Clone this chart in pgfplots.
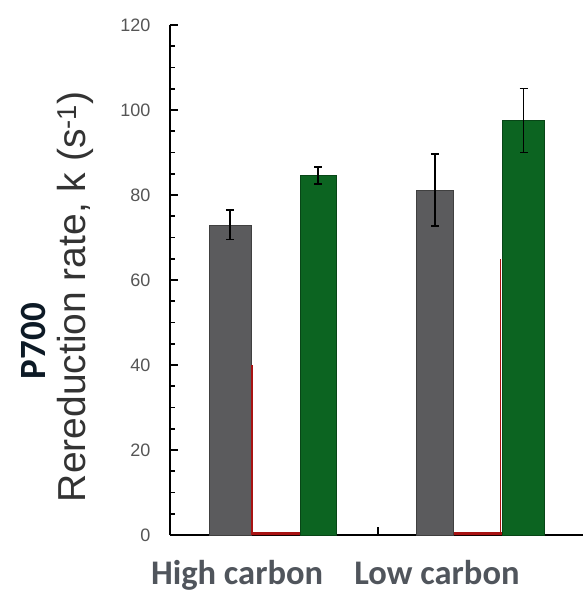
\documentclass[border=0pt]{standalone}
\usepackage{fontspec}
\setmainfont{Liberation Sans}
\newfontfamily\calfont{Carlito}
\usepackage{pgfplots}
\pgfplotsset{compat=1.18}
\definecolor{bargray}{HTML}{5B5B5D}
\definecolor{bargreen}{HTML}{0C6421}
\definecolor{barred}{HTML}{A81212}
\definecolor{ticklab}{HTML}{555555}
\definecolor{xlab}{HTML}{50555C}
\definecolor{ylab}{HTML}{333333}
\definecolor{plab}{HTML}{0D1A26}
\begin{document}
\begin{tikzpicture}
\useasboundingbox (-170pt,-57pt) rectangle (413pt,535pt);
\begin{axis}[
  at={(0,0)}, anchor=south west,
  width=413pt, height=510pt, scale only axis,
  xmin=-0.525, xmax=1.52, ymin=0, ymax=120,
  axis x line*=bottom, axis y line*=left,
  axis line style={line width=1.6pt, black},
  ytick={0,20,...,120}, minor y tick num=3,
  tick align=inside,
  major tick length=8pt, minor tick length=5pt,
  every tick/.style={line width=1.6pt, black},
  /pgf/number format/assume math mode=true,
  yticklabel style={font=\fontsize{18}{18}\selectfont, text=ticklab, xshift=-16pt},
  xtick={-0.193,0.797}, xticklabels={High carbon, Low carbon},
  xticklabel style={font=\calfont\bfseries\fontsize{34.5}{34.5}\selectfont, text=xlab, inner sep=0pt, yshift=-25pt},
  x tick style={draw=none},
  extra x ticks={0.505}, extra x tick labels={},
  extra x tick style={x tick style={draw=black, line width=1.6pt}},
  clip=false,
  error bars/error bar style={line width=1.5pt, black},
  error bars/error mark options={rotate=90, mark size=4pt, line width=1.5pt, black},
]
% gray bars
\addplot[ybar, bar width=42pt, bar shift=0pt, fill=bargray, draw=black!75,
  error bars/.cd, y dir=both, y explicit]
  coordinates {(-0.228,73) +- (0,3.5)};
\addplot[ybar, bar width=37pt, bar shift=0pt, fill=bargray, draw=black!75,
  error bars/.cd, y dir=both, y explicit]
  coordinates {(0.787,81.2) +- (0,8.5)};
% red bars
\addplot[ybar, bar width=48pt, bar shift=0pt, fill=barred, draw=none]
  coordinates {(0,0.7) (1.0,0.7)};
% green bars
\addplot[ybar, bar width=36pt, bar shift=0pt, fill=bargreen, draw=bargreen!70!black,
  error bars/.cd, y dir=both, y explicit]
  coordinates {(0.208,84.6) +- (0,2)};
\addplot[ybar, bar width=42pt, bar shift=0pt, fill=bargreen, draw=bargreen!70!black,
  error bars/.cd, y dir=both, y explicit]
  coordinates {(1.226,97.5) +- (0,7.5)};
\addplot[ycomb, mark=none, draw=barred, line width=1.4pt]
  coordinates {(-0.118,40) (1.111,65)};
\node[xshift=-95pt, rotate=90, font=\fontsize{39}{39}\selectfont, text=ylab] at (rel axis cs:0,0.467) {Rereduction rate, k (s\textsuperscript{-1})};
\node[xshift=-137pt, rotate=90, font=\calfont\bfseries\fontsize{37}{37}\selectfont, text=plab] at (rel axis cs:0,0.38) {P700};
\end{axis}
\end{tikzpicture}
\end{document}
